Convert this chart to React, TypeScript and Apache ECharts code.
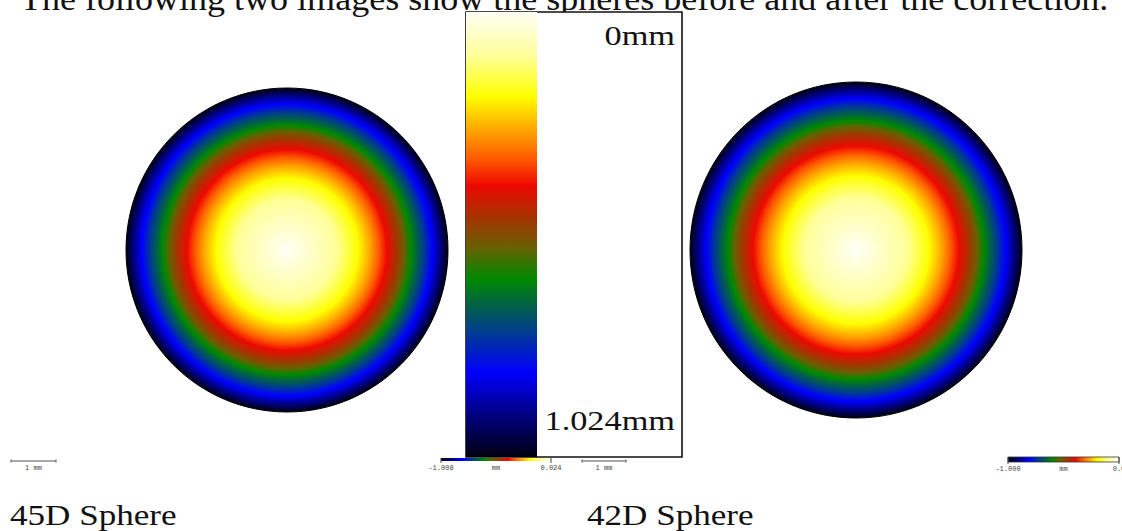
import React, { useEffect, useRef } from "react";
import * as echarts from "echarts";

// Colormap (depth below apex, 0 mm at top -> 1.024 mm at bottom)
const depthFractions = [0, 0.1, 0.19, 0.23, 0.27, 0.33, 0.39, 0.46, 0.53, 0.6, 0.66, 0.72, 0.81, 0.9, 1];
const depthColors = [
  "#fffff6", "#ffff98", "#ffff00", "#ffd000", "#ffa000", "#ff5a00", "#ee0800",
  "#a83200", "#686000", "#008a00", "#006048", "#003c90", "#0000ff", "#000088", "#000010",
];
// Radial positions of the same colour rings in each sphere map (fraction of radius)
const leftRingRadii = [0, 0.31, 0.44, 0.48, 0.52, 0.57, 0.62, 0.68, 0.73, 0.77, 0.81, 0.85, 0.9, 0.95, 1];
const rightRingRadii = [0, 0.31, 0.44, 0.48, 0.52, 0.57, 0.62, 0.68, 0.73, 0.77, 0.81, 0.85, 0.9, 0.95, 1];

const titleText = "The following two images show the spheres before and after the correction.";
const colorBarLabels = ["0mm", "1.024mm"];
const sphereLabels = ["45D Sphere", "42D Sphere"];
const leftMiniLabels = ["-1.008", "mm", "0.024"];
const rightMiniLabels = ["-1.000", "mm", "0.0"];
const scaleBarLabel = "1 mm";

const SERIF = '"Liberation Serif", "Times New Roman", serif';
const MONO = '"Liberation Mono", "DejaVu Sans Mono", monospace';

function radialStops(radii: number[]) {
  return radii.map((r, i) => ({ offset: r, color: depthColors[i] }));
}
function verticalStops() {
  return depthFractions.map((f, i) => ({ offset: f, color: depthColors[i] }));
}
function horizontalStops() {
  return depthFractions
    .map((f, i) => ({ offset: 1 - f, color: depthColors[i] }))
    .reverse();
}

function sphere(cx: number, cy: number, rx: number, ry: number, radii: number[]) {
  return {
    type: "ellipse",
    shape: { cx, cy, rx, ry },
    style: {
      fill: { type: "radial", x: 0.5, y: 0.5, r: 0.5, colorStops: radialStops(radii) },
      stroke: "#000",
      lineWidth: 1,
    },
  };
}

function text(x: number, y: number, t: string, font: string, align: string, scaleX = 1, fill = "#111") {
  return {
    type: "text",
    x,
    y,
    scaleX,
    style: { x: 0, y: 0, text: t, font, fill, textAlign: align, textVerticalAlign: "middle" },
  };
}

function scaleBar(x1: number, x2: number, y: number) {
  return [
    { type: "line", shape: { x1, y1: y, x2, y2: y }, style: { stroke: "#555", lineWidth: 1 } },
    { type: "line", shape: { x1, y1: y - 1.5, x2: x1, y2: y + 1.5 }, style: { stroke: "#555", lineWidth: 1 } },
    { type: "line", shape: { x1: x2, y1: y - 1.5, x2, y2: y + 1.5 }, style: { stroke: "#555", lineWidth: 1 } },
    text((x1 + x2) / 2, y + 7, scaleBarLabel, "7px " + MONO, "center", 1, "#444"),
  ];
}

function miniColorBar(x: number, y: number, w: number, h: number, labels: string[], border: boolean) {
  return [
    {
      type: "rect",
      shape: { x, y, width: w, height: h },
      style: {
        fill: { type: "linear", x: 0, y: 0, x2: 1, y2: 0, colorStops: horizontalStops() },
        stroke: border ? "#333" : null,
        lineWidth: border ? 0.8 : 0,
      },
    },
    { type: "line", shape: { x1: x, y1: y, x2: x, y2: y + h + 2 }, style: { stroke: "#444", lineWidth: 1 } },
    { type: "line", shape: { x1: x + w, y1: y, x2: x + w, y2: y + h + 2 }, style: { stroke: "#444", lineWidth: 1 } },
    text(x, y + h + 7, labels[0], "7px " + MONO, "center", 1, "#444"),
    text(x + w / 2, y + h + 7, labels[1], "7px " + MONO, "center", 1, "#444"),
    text(x + w, y + h + 7, labels[2], "7px " + MONO, "center", 1, "#444"),
  ];
}

export default function App() {
  const ref = useRef<HTMLDivElement>(null);
  useEffect(() => {
    if (!ref.current) return;
    const chart = echarts.init(ref.current, undefined, { renderer: "svg" });
    const graphic: any[] = [
      text(20, -1, titleText, "34px " + SERIF, "left", 1.06),
      sphere(287, 250, 161, 162, leftRingRadii),
      sphere(856, 250, 166, 168, rightRingRadii),
      // big colour bar frame
      {
        type: "rect",
        shape: { x: 466, y: 12, width: 216, height: 445 },
        style: { fill: "#fff", stroke: "#111", lineWidth: 1.6 },
      },
      {
        type: "rect",
        shape: { x: 466, y: 12, width: 71, height: 445 },
        style: { fill: { type: "linear", x: 0, y: 0, x2: 0, y2: 1, colorStops: verticalStops() } },
      },
      text(675, 36, colorBarLabels[0], "27px " + SERIF, "right", 1.27),
      text(675, 421, colorBarLabels[1], "27px " + SERIF, "right", 1.27),
      ...scaleBar(11, 56, 461),
      ...miniColorBar(441, 458, 110, 3, leftMiniLabels, false),
      ...scaleBar(582, 626, 461),
      ...miniColorBar(1008, 457, 111, 5, rightMiniLabels, true),
      text(10, 515, sphereLabels[0], "30px " + SERIF, "left", 1.17),
      text(587, 515, sphereLabels[1], "30px " + SERIF, "left", 1.17),
    ];
    chart.setOption({ animation: false, backgroundColor: "#fff", graphic });
    return () => chart.dispose();
  }, []);
  return (
    <div
      ref={ref}
      style={{ position: "fixed", left: 0, top: 0, width: 1122, height: 531, background: "#fff" }}
    />
  );
}
